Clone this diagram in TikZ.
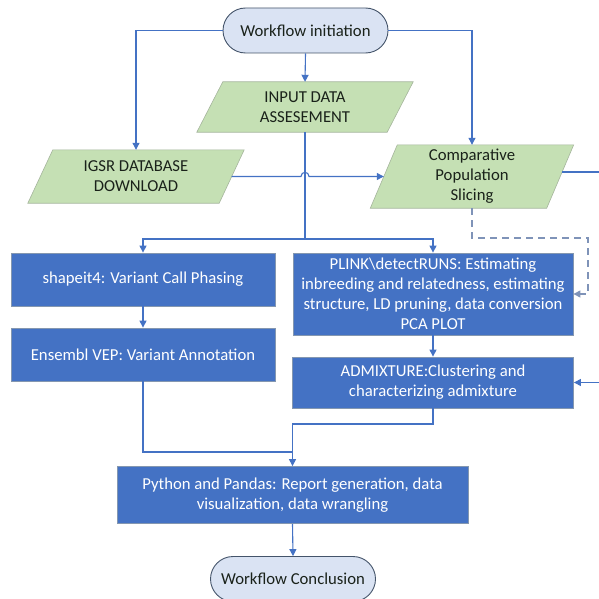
\documentclass[tikz,border=0pt]{standalone}
\usepackage{fontspec}
\setmainfont{Carlito}
\usetikzlibrary{shapes.misc,arrows.meta,backgrounds,calc}
\definecolor{connblue}{HTML}{4472C4}
\definecolor{dashcol}{HTML}{7F93B8}
\definecolor{procfill}{HTML}{4472C4}
\definecolor{procdraw}{HTML}{8497B0}
\definecolor{greenfill}{HTML}{C5E0B4}
\definecolor{greendraw}{HTML}{A5B59C}
\definecolor{termfill}{HTML}{DAE3F3}
\definecolor{termdraw}{HTML}{44546A}
\definecolor{textdark}{HTML}{1A221A}
\tikzset{
  txt/.style={font=\fontsize{16.7}{20}\selectfont, align=center},
  term/.style={txt, rounded rectangle, draw=termdraw, fill=termfill, line width=0.9pt,
    minimum width=165pt, minimum height=45pt, inner sep=0pt, text=textdark},
  proc/.style={txt, rectangle, draw=procdraw, fill=procfill, line width=0.8pt,
    inner sep=0pt, text=white},
  para/.style={txt, rectangle, inner sep=0pt, text=textdark},
  paraback/.style={fill=greenfill, draw=greendraw, line width=0.6pt},
  plainline/.style={draw=connblue, line width=1.1pt},
  link/.style={plainline, -{Triangle[length=7pt,width=7pt]}},
  dashlink/.style={draw=dashcol, line width=1.1pt, dash pattern=on 7pt off 5pt,
    -{Triangle[length=7pt,width=7pt]}}
}
\begin{document}
\begin{tikzpicture}[x=1pt,y=-1pt]
\useasboundingbox (0,0) rectangle (598,599);

% terminals
\node[term] (start) at (305.5,30.5) {Workflow initiation};
\node[term] (finish) at (293,579) {Workflow Conclusion};

% parallelogram nodes
\node[para, minimum width=190pt, minimum height=50pt] (inp) at (305,107) {INPUT DATA\\ASSESEMENT};
\node[para, minimum width=191pt, minimum height=53pt] (igsr) at (136,176.5) {IGSR DATABASE\\DOWNLOAD};
\node[para, minimum width=176pt, minimum height=63pt] (comp) at (472,176.5) {Comparative\\Population\\Slicing};

\begin{scope}[on background layer]
  \path[paraback] ([xshift=-13pt]inp.south west) -- ([xshift=-13pt]inp.south east)
     -- ([xshift=13pt]inp.north east) -- ([xshift=13pt]inp.north west) -- cycle;
  \path[paraback] ([xshift=-12.5pt]igsr.south west) -- ([xshift=-12.5pt]igsr.south east)
     -- ([xshift=12.5pt]igsr.north east) -- ([xshift=12.5pt]igsr.north west) -- cycle;
  \path[paraback] ([xshift=-13.5pt]comp.south west) -- ([xshift=-13.5pt]comp.south east)
     -- ([xshift=13.5pt]comp.north east) -- ([xshift=13.5pt]comp.north west) -- cycle;
\end{scope}

% process boxes
\node[proc, minimum width=264pt, minimum height=53pt] (shape) at (143,279.5) {shapeit4: Variant Call Phasing};
\node[proc, minimum width=264pt, minimum height=53pt] (ens) at (143,354.5) {Ensembl VEP: Variant Annotation};
\node[proc, minimum width=280pt, minimum height=82pt] (plink) at (433,294)
  {PLINK\textbackslash detectRUNS: Estimating\\inbreeding and relatedness, estimating\\structure, LD pruning, data conversion\\PCA PLOT};
\node[proc, minimum width=281pt, minimum height=51pt] (admix) at (433,382.5) {ADMIXTURE:Clustering and\\characterizing admixture};
\node[proc, minimum width=351pt, minimum height=57pt] (py) at (292.5,495)
  {Python and Pandas: Report generation, data\\visualization, data wrangling};

% coordinates
\coordinate (split) at (305,239);
\coordinate (dashturn) at (588,238);
\coordinate (compout) at ([xshift=2pt,yshift=4.5pt]comp.east);
\coordinate (outR) at (620,172);
\coordinate (merge) at (292.5,452);
\coordinate (admixturn) at (433,424);

% connectors
\draw[link] (start.south) -- (inp.north);
\draw[link] (start.west) -| (igsr.north);
\draw[link] (start.east) -| (comp.north);
\draw[link] (igsr.east) -- (301,176.5) .. controls (301,171) and (309,171) .. (309,176.5) -- (comp.west);
\draw[plainline] (inp.south) -- (split);
\draw[link] (split) -| (shape.north);
\draw[link] (split) -| (plink.north);
\draw[link] (shape.south) -- (ens.north);
\draw[link] (plink.south) -- (admix.north);
\draw[link] (compout) -- (compout -| outR) |- (admix.east);
\draw[dashlink] (comp.south) |- (dashturn) |- (plink.east);
\draw[plainline] (ens.south) |- (merge);
\draw[link] (admix.south) -- (admixturn) -| (py.north);
\draw[link] (py.south) -- (finish.north);
\end{tikzpicture}
\end{document}
